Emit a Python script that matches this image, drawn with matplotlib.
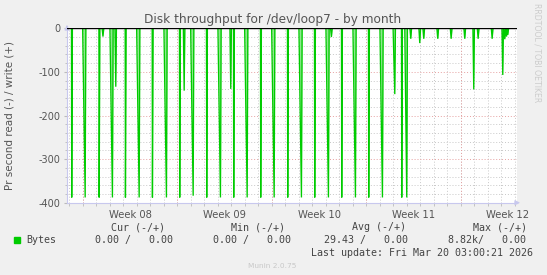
import matplotlib
matplotlib.use("Agg")
import matplotlib.pyplot as plt
from matplotlib.patches import Rectangle

# ---- data (hours since Mon Feb 16 2026 00:00) ----
full_t = [-19.6, 4.3, 29.2, 52.8, 75.9, 100.3, 123.9, 148.8, 172.4, 196.3,
          220.4, 244.8, 268.4, 292.3, 316.4, 340.3, 364.4, 388.8, 412.4, 436.8,
          460.4, 484.8, 508.4, 532.8, 554.7, 567.1, 576.0]
full_v = [-388, -388, -388, -388, -388, -388, -388, -388, -388, -384,
          -388, -388, -388, -388, -388, -388, -388, -388, -388, -388,
          -388, -388, -388, -388, -151, -388, -388]
full_ramp = [0.5, 4.5, 0.5, 4.5, 0.5, 4.5, 0.5, 4.5, 0.5, 4.5,
             0.5, 4.5, 0.5, 4.5, 0.5, 4.5, 0.5, 4.5, 0.5, 4.5,
             0.5, 4.5, 0.5, 4.5, 3, 0.5, 3.5]
short_t = [58.7, 180.3, 263.1, 695.1, 746.7]
short_v = [-134, -143, -139, -140, -107]
dip_t = [35.9, 442.0, 583.1, 599.1, 606.2, 631.1, 654.9, 679.1, 702.9, 727.8,
         750.2, 753.3, 755.6]
dip_v = [-19, -20, -24, -34, -24, -24, -24, -24, -24, -24, -25, -19, -15]

x_start, x_end = -28.0, 772.0
week_labels = ["Week 08", "Week 09", "Week 10", "Week 11", "Week 12"]
week_mid = [84, 252, 420, 588, 756]
mondays = [0, 168, 336, 504, 672]
days = list(range(-24, 773, 24))
yticks = [0, -100, -200, -300, -400]

# build the line from events
events = []
for t, v, r in zip(full_t, full_v, full_ramp):
    events.append((t, v, r, 1.2))
for t, v in zip(short_t, short_v):
    events.append((t, v, 1.5, 1.2))
for t, v in zip(dip_t, dip_v):
    events.append((t, v, 1.5, 1.5))
events.sort()
xs, ys = [x_start], [0]
for t, v, rl, rr in events:
    xs += [t - rl, t, t + rr]
    ys += [0, v, 0]
xs.append(x_end)
ys.append(0)

# ---- figure ----
W, H = 547, 275
fig = plt.figure(figsize=(W / 100, H / 100), dpi=100, facecolor="#f0f0f0")
L, R, T, B = 67, 517, 28.3, 202.7
ax = fig.add_axes([L / W, 1 - B / H, (R - L) / W, (B - T) / H])
ax.set_facecolor("white")

txt = "#555555"
ax.set_xlim(x_start, x_end)
ax.set_ylim(-400, 0)

# grids
ax.set_yticks(yticks)
ax.set_yticklabels([str(v) for v in yticks], color=txt, fontsize=7)
ax.set_yticks(list(range(-380, 0, 20)), minor=True)
ax.set_xticks(week_mid)
ax.set_xticklabels(week_labels, color=txt, fontsize=7.2)
ax.set_xticks(days, minor=True)
ax.tick_params(axis="x", which="major", length=0, pad=5)
ax.tick_params(axis="x", which="minor", length=2, color="#bbbbbb")
ax.tick_params(axis="y", which="major", length=2, color="#bbbbbb", pad=3)
ax.tick_params(axis="y", which="minor", length=1.5, color="#bbbbbb")
ax.grid(True, axis="y", which="major", color="#e6a0a0", lw=0.7, ls=(0, (1, 2)))
ax.grid(True, axis="y", which="minor", color="#c8c8c8", lw=0.7, ls=(0, (1, 2)))
ax.grid(True, axis="x", which="minor", color="#c8c8c8", lw=0.7, ls=(0, (1, 2)))
for m in mondays:
    ax.axvline(m, color="#e6a0a0", lw=0.7, ls=(0, (1, 2)), zorder=1)
ax.set_axisbelow(True)

for s in ["top", "right"]:
    ax.spines[s].set_visible(False)
for s in ["left", "bottom"]:
    ax.spines[s].set_color("#c8c8ee")
    ax.spines[s].set_linewidth(0.8)
# axis arrows
ax.annotate("", xy=(1.013, 0), xytext=(0.99, 0), xycoords="axes fraction",
            arrowprops=dict(arrowstyle="-|>", color="#c8c8ee", lw=0.8,
                            mutation_scale=7), annotation_clip=False)
ax.annotate("", xy=(0, 1.035), xytext=(0, 0.99), xycoords="axes fraction",
            arrowprops=dict(arrowstyle="-|>", color="#c8c8ee", lw=0.8,
                            mutation_scale=7), annotation_clip=False)

# data line
ax.fill_between(xs, ys, 0, color="#8ee88e", lw=0, zorder=2)
ax.plot(xs, ys, color="#00cc00", lw=0.95, zorder=3, solid_joinstyle="miter")
ax.axhline(0, color="black", lw=1.0, zorder=4)

# texts
fig.text(272.5 / W, 1 - 19 / H, "Disk throughput for /dev/loop7 - by month",
         ha="center", va="center", fontsize=8.7, color=txt)
fig.text(10 / W, 1 - 116 / H, "Pr second read (-) / write (+)", rotation=90,
         ha="center", va="center", fontsize=7.5, color=txt)
fig.text(537.5 / W, 1 - 53 / H, "RRDTOOL / TOBI OETIKER", rotation=270,
         ha="center", va="center", fontsize=5.6, color="#cccccc")

mono = dict(family="DejaVu Sans Mono", fontsize=7.2, color="#444444",
            va="center", ha="left")
yh, yr, yl = 227.5, 240, 253
fig.text(111 / W, 1 - yh / H, "Cur (-/+)", **mono)
fig.text(231.3 / W, 1 - yh / H, "Min (-/+)", **mono)
fig.text(352.4 / W, 1 - yh / H, "Avg (-/+)", **mono)
fig.text(472.8 / W, 1 - yh / H, "Max (-/+)", **mono)
fig.patches.append(Rectangle((14 / W, 1 - 243 / H), 6 / W, 6 / H,
                             transform=fig.transFigure, color="#00cc00"))
fig.text(26.7 / W, 1 - yr / H, "Bytes", **mono)
fig.text(95 / W, 1 - yr / H, "0.00 /   0.00", **mono)
fig.text(212.8 / W, 1 - yr / H, "0.00 /   0.00", **mono)
fig.text(324.5 / W, 1 - yr / H, "29.43 /   0.00", **mono)
fig.text(447.7 / W, 1 - yr / H, "8.82k/   0.00", **mono)
fig.text(311.2 / W, 1 - yl / H, "Last update: Fri Mar 20 03:00:21 2026", **mono)
fig.text(272.5 / W, 1 - 266.5 / H, "Munin 2.0.75", ha="center", va="center",
         fontsize=5.3, color="#c8c8c8")

fig.savefig("out.png", dpi=100, facecolor=fig.get_facecolor())
